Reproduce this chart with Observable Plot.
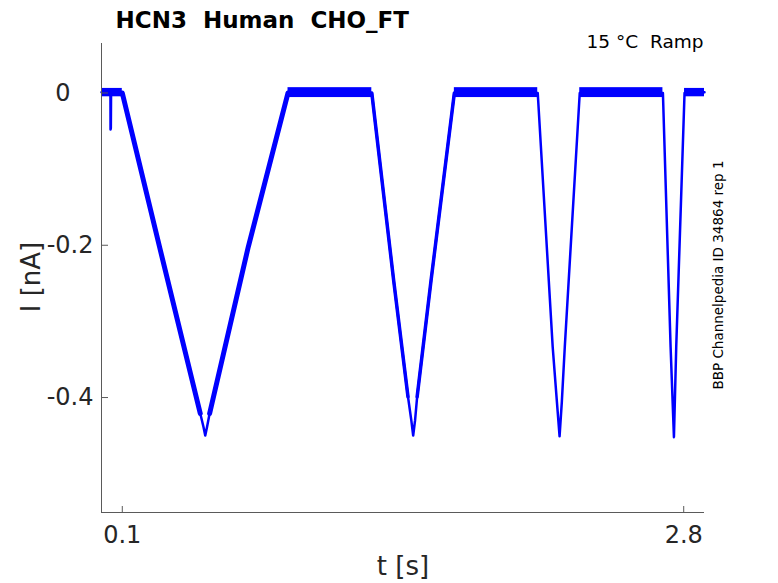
<!DOCTYPE html>
<html><head><meta charset="utf-8">
<script src="https://cdn.jsdelivr.net/npm/d3@7"></script>
<script src="https://cdn.jsdelivr.net/npm/@observablehq/plot@0.6"></script>
<style>body{margin:0;background:#fff}</style>
</head><body><div id="chart"></div>
<script>
// scales and ticks
const xDomain = [0, 2.9];
const yDomain = [-0.551, 0.065];
const xTicks = [0.1, 2.8];
const yTicks = [0, -0.2, -0.4];
const xTickLabels = ["0.1", "2.8"];
const yTickLabels = ["0\u2008\u2007", "-0.2", "-0.4"];

// texts
const titleText = "HCN3\u00a0\u00a0Human\u00a0\u00a0CHO_FT";
const condText = "15 \u00b0C\u00a0\u00a0Ramp";
const sideText = "BBP Channelpedia ID 34864 rep 1";
const xLabel = "t [s]";
const yLabel = "I [nA]";

// trace vertices: t [s], I [nA]
const startT = [0.000, 0.020, 0.043, 0.0435, 0.0450, 0.0460, 0.070];
const startI = [0.001, 0.000, 0.000, -0.048, -0.046, 0.000, 0.001];
const ramp1T = [0.100, 0.279, 0.475, 0.490, 0.499, 0.508, 0.520, 0.706, 0.897];
const ramp1I = [0.000, -0.202, -0.421, -0.438, -0.450, -0.438, -0.421, -0.202, 0.000];
const ramp2T = [1.300, 1.405, 1.474, 1.490, 1.499, 1.508, 1.518, 1.585, 1.697];
const ramp2I = [0.000, -0.246, -0.399, -0.430, -0.450, -0.430, -0.399, -0.246, 0.000];
const ramp3T = [2.098, 2.170, 2.190, 2.203, 2.214, 2.228, 2.300];
const ramp3I = [0.000, -0.334, -0.405, -0.451, -0.405, -0.334, 0.000];
const ramp4T = [2.700, 2.737, 2.753, 2.764, 2.804];
const ramp4I = [0.000, -0.334, -0.452, -0.334, 0.000];
const endT = [2.850, 2.900];
const endI = [0.001, 0.001];

// baseline noise envelope (segments)
const bandStart = [0.000, 0.897, 1.697, 2.300, 2.804];
const bandEnd   = [0.100, 1.300, 2.098, 2.700, 2.900];
const bandHigh  = [0.006, 0.007, 0.007, 0.007, 0.006];
const bandLow   = [-0.005, -0.006, -0.006, -0.006, -0.005];

// level below which the noisy trace narrows to a thin tip
const tipLevel = -0.425;

const zip = (T, I) => T.map((t, i) => ({t, i: I[i]}));
const trace = [].concat(zip(startT, startI), zip(ramp1T, ramp1I), zip(ramp2T, ramp2I),
  zip(ramp3T, ramp3I), zip(ramp4T, ramp4I), zip(endT, endI));
const ramp1 = zip(ramp1T, ramp1I);
const ramp2 = zip(ramp2T, ramp2I);
const bands = bandStart.map((s, k) => ({s, e: bandEnd[k], hi: bandHigh[k], lo: bandLow[k]}));
const aboveTip = d => (d.i >= tipLevel ? d.i : NaN);

const blue = "#0000ff";
const ink = "#262626";
const axisColor = "#5a5a5a";
const font = "DejaVu Sans";

const chart = Plot.plot({
  width: 778, height: 583,
  marginLeft: 101, marginRight: 74, marginTop: 43, marginBottom: 71,
  style: {fontFamily: font, background: "#fff", color: ink},
  x: {domain: xDomain},
  y: {domain: yDomain},
  marks: [
    Plot.rect(bands, {x1: "s", x2: "e", y1: "lo", y2: "hi", fill: blue}),
    Plot.line(trace, {x: "t", y: "i", stroke: blue, strokeWidth: 2.5, strokeLinejoin: "round"}),
    Plot.line(ramp1, {x: "t", y: aboveTip, stroke: blue, strokeWidth: 5, strokeLinejoin: "round"}),
    Plot.line(ramp2, {x: "t", y: aboveTip, stroke: blue, strokeWidth: 3.5, strokeLinejoin: "round"}),
    // axis lines
    Plot.ruleX([xDomain[0]], {stroke: axisColor}),
    Plot.ruleY([yDomain[0]], {stroke: axisColor}),
    // inward ticks
    Plot.ruleX(xTicks, {y1: yDomain[0], y2: yDomain[0], insetTop: -6, stroke: axisColor}),
    Plot.ruleY(yTicks, {x1: xDomain[0], x2: xDomain[0], insetRight: -7, stroke: axisColor}),
    // tick labels
    Plot.axisX({ticks: xTicks, tickSize: 0, tickPadding: 13, fontSize: 24, label: null,
      tickFormat: d => xTickLabels[xTicks.indexOf(d)], fill: ink}),
    Plot.axisY({ticks: yTicks, tickSize: 0, tickPadding: 8, fontSize: 24, label: null,
      tickFormat: d => yTickLabels[yTicks.indexOf(d)], fill: ink}),
    // axis labels
    Plot.text([xLabel], {frameAnchor: "bottom", dy: 62, textAnchor: "middle", lineAnchor: "bottom", fontSize: 26, fill: ink}),
    Plot.text([yLabel], {frameAnchor: "left", dx: -62, dy: -1, rotate: -90, textAnchor: "middle", lineAnchor: "bottom", fontSize: 26, fill: ink}),
    // title and annotations
    Plot.text([titleText], {frameAnchor: "top-left", dx: 14, dy: -16, textAnchor: "start", lineAnchor: "bottom", fontSize: 23, fontWeight: "bold", fill: "#000"}),
    Plot.text([condText], {frameAnchor: "top-right", dx: -1, dy: 4, textAnchor: "end", lineAnchor: "bottom", fontSize: 18.5, fill: "#000"}),
    Plot.text([sideText], {frameAnchor: "right", dx: 18, dy: -3, rotate: -90, textAnchor: "middle", lineAnchor: "bottom", fontSize: 13.5, fill: "#000"})
  ]
});
document.getElementById("chart").appendChild(chart);
</script>
</body></html>
